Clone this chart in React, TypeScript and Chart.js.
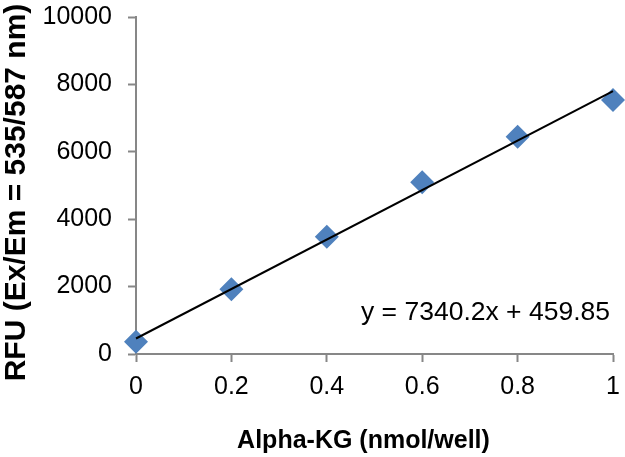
import React, { useEffect, useRef } from "react";
import { Chart, registerables } from "chart.js";

Chart.register(...registerables);

const xValues = [0, 0.2, 0.4, 0.6, 0.8, 1];
const rfuValues = [365, 1920, 3480, 5100, 6450, 7540];
const trendSlope = 7340.2;
const trendIntercept = 459.85;
const xTitle = "Alpha-KG (nmol/well)";
const yTitle = "RFU (Ex/Em = 535/587 nm)";
const xMin = 0, xMax = 1, xStep = 0.2;
const yMin = 0, yMax = 10000, yStep = 2000;

const FONT = '"Liberation Sans", Arial, Helvetica, sans-serif';
const AXIS_GRAY = "#878787";
const MARKER_BLUE = "#4F81BD";

function drawTitles(canvas: HTMLCanvasElement, chartArea: any) {
  const ctx = canvas.getContext("2d");
  if (!ctx) return;
  ctx.clearRect(0, 0, canvas.width, canvas.height);
  ctx.save();
  ctx.fillStyle = "#000";
  ctx.font = `bold 25px ${FONT}`;
  ctx.textAlign = "center";
  ctx.textBaseline = "alphabetic";
  ctx.fillText(xTitle, (chartArea.left + chartArea.right) / 2 - 11, chartArea.bottom + 94);
  ctx.font = `26.5px ${FONT}`;
  ctx.textAlign = "right";
  ctx.fillText(`y = ${trendSlope}x + ${trendIntercept}`, chartArea.right - 3, chartArea.bottom - 34);
  ctx.restore();
  ctx.save();
  ctx.fillStyle = "#000";
  ctx.translate(17, (chartArea.top + chartArea.bottom) / 2 + 7);
  ctx.rotate(-Math.PI / 2);
  ctx.font = `bold 30px ${FONT}`;
  ctx.textAlign = "center";
  ctx.textBaseline = "middle";
  ctx.fillText(yTitle, 0, 0);
  ctx.restore();
}

export default function App() {
  const canvasRef = useRef<HTMLCanvasElement | null>(null);
  const overlayRef = useRef<HTMLCanvasElement | null>(null);

  useEffect(() => {
    document.body.style.margin = "0";
    const canvas = canvasRef.current;
    if (!canvas) return;
    const trendData = [xMin, xMax].map((x) => ({ x, y: trendSlope * x + trendIntercept }));
    const pointData = xValues.map((x, i) => ({ x, y: rfuValues[i] }));

    const chart = new Chart(canvas, {
      type: "scatter",
      data: {
        datasets: [
          {
            label: "Linear",
            data: trendData,
            showLine: true,
            borderColor: "#000",
            borderWidth: 2,
            pointRadius: 0,
            fill: false,
            clip: false as any,
          },
          {
            label: "RFU",
            data: pointData,
            pointStyle: "rectRot",
            pointRadius: 12,
            pointBackgroundColor: MARKER_BLUE,
            pointBorderWidth: 0,
            borderWidth: 0,
            clip: false as any,
          },
        ],
      },
      options: {
        responsive: false,
        animation: false,
        devicePixelRatio: 1,
        layout: { padding: { top: 17, right: 8, left: 0, bottom: 0 } },
        plugins: {
          legend: { display: false },
          tooltip: { enabled: false },
        },
        scales: {
          x: {
            type: "linear",
            min: xMin,
            max: xMax,
            afterFit: (scale: any) => {
              scale.height = 103;
              scale.paddingLeft = 0;
              scale.paddingRight = 0;
            },
            ticks: {
              stepSize: xStep,
              color: "#000",
              padding: 10,
              font: { family: FONT, size: 25 },
              callback: (v: any) => String(Math.round(Number(v) * 10) / 10),
            },
            grid: { drawOnChartArea: false, drawTicks: true, tickLength: 8, tickColor: AXIS_GRAY, tickWidth: 2 },
            border: { display: true, color: AXIS_GRAY, width: 2 },
          },
          y: {
            type: "linear",
            min: yMin,
            max: yMax,
            afterFit: (scale: any) => {
              scale.width = 136;
              scale.paddingTop = 0;
              scale.paddingBottom = 0;
            },
            ticks: {
              stepSize: yStep,
              color: "#000",
              padding: 16,
              font: { family: FONT, size: 25 },
              callback: (v: any) => String(v),
            },
            grid: { drawOnChartArea: false, drawTicks: true, tickLength: 8, tickColor: AXIS_GRAY, tickWidth: 2 },
            border: { display: true, color: AXIS_GRAY, width: 2 },
          },
        },
      },
    });
    if (overlayRef.current) drawTitles(overlayRef.current, chart.chartArea);
    return () => chart.destroy();
  }, []);

  return (
    <div style={{ position: "fixed", left: 0, top: 0, width: 625, height: 457, background: "#fff" }}>
      <canvas ref={canvasRef} width={625} height={457} />
      <canvas ref={overlayRef} width={625} height={457} style={{ position: "absolute", left: 0, top: 0, pointerEvents: "none" }} />
    </div>
  );
}
